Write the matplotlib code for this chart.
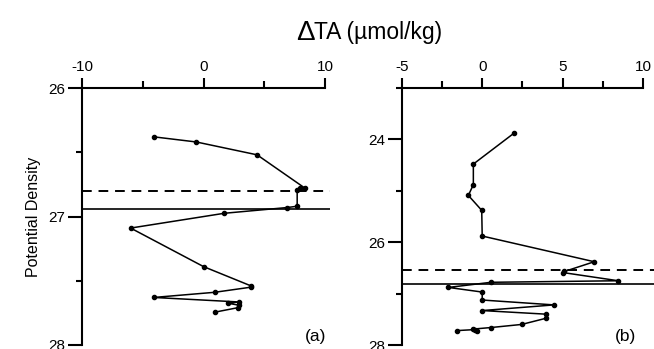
import matplotlib
matplotlib.use("Agg")
import matplotlib.pyplot as plt
from matplotlib.ticker import MultipleLocator

plt.rcParams['font.family'] = ['Liberation Sans', 'DejaVu Sans']
plt.rcParams['axes.unicode_minus'] = False

# panel (a) profile
ta_a = [-4.1, -0.6, 4.4, 8.35, 7.9, 7.7, 7.7, 6.9, 1.7, -6.0, 0.0, 3.9, 3.9, 0.9, -4.1,
        2.9, 2.0, 2.9, 2.8, 0.9]
sig_a = [26.38, 26.42, 26.52, 26.78, 26.78, 26.79, 26.92, 26.93, 26.975, 27.09, 27.39,
         27.54, 27.55, 27.59, 27.63, 27.665, 27.675, 27.69, 27.71, 27.745]
dash_a = 26.80
solid_a = 26.94

# panel (b) profile
ta_b = [1.97, -0.55, -0.55, -0.86, -0.03, 0.0, 6.96, 5.1, 5.0, 8.45, 0.55, -2.1, 0.0, 0.0,
        4.46, 0.0, 3.96, 3.96, 2.45, 0.55, -0.55, -0.3, -0.45, -1.58]
sig_b = [23.88, 24.48, 24.88, 25.09, 25.38, 25.88, 26.38, 26.57, 26.59, 26.75, 26.78, 26.88,
         26.97, 27.125, 27.22, 27.33, 27.40, 27.48, 27.60, 27.66, 27.69, 27.73, 27.70, 27.72]
dash_b = 26.54
solid_b = 26.81

W, H = 654, 349
fig = plt.figure(figsize=(W / 100, H / 100), dpi=100)

def make_axes(x0, x1, y0, y1):
    return fig.add_axes([x0 / W, 1 - y1 / H, (x1 - x0) / W, (y1 - y0) / H])

def style(ax, xlo, xhi, xmaj, xmin_, ymaj, ymin_):
    ax.xaxis.tick_top()
    ax.spines['right'].set_visible(False)
    ax.spines['bottom'].set_visible(False)
    ax.spines['top'].set_linewidth(1.5)
    ax.spines['left'].set_linewidth(1.5)
    ax.spines['top'].set_bounds(xlo, xhi)
    ax.xaxis.set_major_locator(MultipleLocator(xmaj))
    ax.xaxis.set_minor_locator(MultipleLocator(xmin_))
    ax.yaxis.set_major_locator(MultipleLocator(ymaj))
    ax.yaxis.set_minor_locator(MultipleLocator(ymin_))
    ax.tick_params(axis='x', which='major', direction='out', length=7, width=1.5,
                   labelsize=11, pad=3, top=True, bottom=False)
    ax.tick_params(axis='x', which='minor', direction='out', length=5, width=1.5,
                   top=True, bottom=False)
    ax.tick_params(axis='y', which='major', direction='out', length=10, width=1.5,
                   labelsize=11, pad=2)
    ax.tick_params(axis='y', which='minor', direction='out', length=4, width=1.5)
    ax.set_facecolor('none')

# (a)
ax1 = make_axes(82, 330, 88, 345)
ax1.set_xlim(-10, 10.4)
ax1.set_ylim(28, 26)
style(ax1, -10, 10, 10, 5, 1, 0.5)
ax1.set_xticks([-10, 0, 10])
ax1.axhline(dash_a, color='black', lw=1.4, ls=(0, (5, 3.5)))
ax1.axhline(solid_a, color='black', lw=1.2)
ax1.plot(ta_a, sig_a, color='black', lw=1.1, marker='o', ms=3)
ax1.set_ylabel('Potential Density', fontsize=11.5, labelpad=5)

# (b)
ax2 = make_axes(401.7, 654, 88, 345)
ax2.set_xlim(-5, 10.67)
ax2.set_ylim(28, 23)
style(ax2, -5, 10, 5, 2.5, 2, 1)
ax2.set_xticks([-5, 0, 5, 10])
ax2.set_yticks([24, 26, 28])
ax2.axhline(dash_b, color='black', lw=1.4, ls=(0, (5, 3.5)))
ax2.axhline(solid_b, color='black', lw=1.2)
ax2.plot(ta_b, sig_b, color='black', lw=1.1, marker='o', ms=3)

# text positions from pixel coords (top-left origin)
fig.text(296 / W, 1 - 33 / H, '\u0394', fontsize=20, ha='left', va='center')
fig.text(314 / W, 1 - 33 / H, 'TA (\u00b5mol/kg)', fontsize=16.5, ha='left', va='center')
fig.text(316 / W, 1 - 336 / H, '(a)', fontsize=12.5, ha='center', va='center')
fig.text(625 / W, 1 - 336 / H, '(b)', fontsize=12.5, ha='center', va='center')

fig.savefig('out.png', dpi=100)
